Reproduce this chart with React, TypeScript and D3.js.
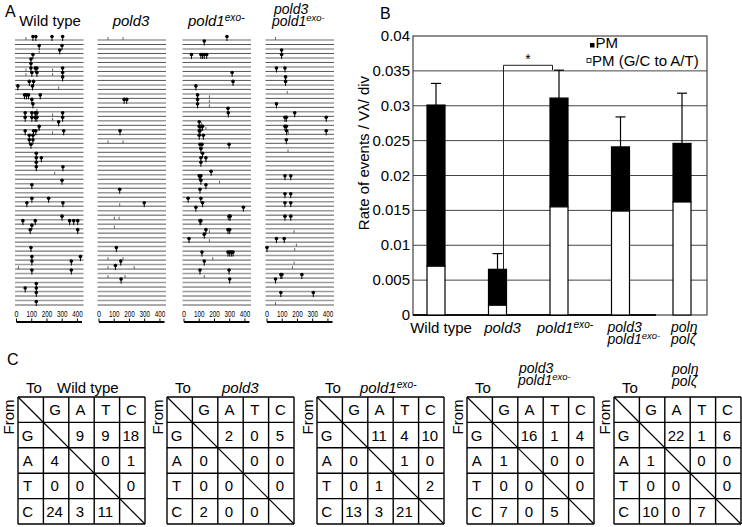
import React from "react";
import * as d3 from "d3";

type Mut = [number, number, string];

// ---------- Panel A data (row, position, kind: p = point mutation pin, t = small tick) ----------
const wtMut: Mut[] = [
  [0,62,"t"],[0,108,"p"],[0,127,"p"],[0,233,"p"],[0,303,"p"],
  [2,149,"p"],[2,299,"p"],[3,149,"t"],[3,284,"p"],[4,108,"p"],[5,95,"p"],[6,95,"p"],
  [7,62,"t"],[7,95,"p"],[7,123,"p"],[7,134,"p"],[7,237,"t"],[7,303,"p"],
  [8,62,"t"],[8,101,"p"],[8,134,"p"],[8,237,"t"],[8,303,"p"],
  [9,303,"p"],[10,84,"p"],[10,112,"p"],[11,9,"p"],[11,105,"p"],[11,277,"t"],
  [13,53,"p"],[13,66,"p"],[13,79,"p"],[13,156,"p"],[14,101,"p"],[15,108,"p"],[16,134,"t"],
  [17,57,"p"],[17,101,"p"],[17,123,"p"],[17,134,"p"],[17,237,"t"],[17,303,"p"],
  [18,57,"p"],[18,101,"p"],[18,123,"p"],[18,134,"p"],[18,237,"t"],[18,303,"p"],
  [19,277,"p"],[20,145,"t"],[20,149,"p"],
  [21,57,"p"],[21,112,"p"],[21,127,"p"],[21,237,"t"],[21,310,"p"],
  [22,84,"p"],[22,108,"p"],[23,84,"p"],[23,108,"p"],[24,95,"p"],
  [26,130,"p"],[27,130,"p"],[27,163,"p"],[28,130,"p"],[29,130,"p"],[29,305,"p"],[30,251,"t"],
  [32,299,"p"],[33,101,"p"],[36,101,"p"],[36,211,"p"],[37,68,"p"],[37,305,"p"],[40,299,"p"],
  [41,42,"p"],[41,123,"p"],[41,349,"p"],[41,376,"p"],[41,402,"p"],[42,101,"p"],[43,90,"p"],[43,402,"p"],
  [47,95,"p"],[49,101,"p"],[49,420,"p"],[50,101,"p"],[50,360,"p"],[51,13,"t"],[52,101,"p"],[52,360,"p"],
  [55,130,"p"],[56,57,"p"],[56,130,"p"],[57,130,"p"],[59,130,"p"],
];
const pold3Mut: Mut[] = [
  [0,59,"t"],[0,158,"t"],[14,165,"p"],[14,182,"p"],[21,138,"p"],[23,59,"t"],[23,158,"t"],
  [34,136,"p"],[37,136,"t"],[37,297,"p"],[40,101,"t"],[40,132,"t"],[42,101,"t"],[47,114,"p"],
  [49,59,"t"],[49,158,"t"],[50,143,"p"],[51,59,"t"],[51,108,"p"],[51,231,"t"],[53,59,"t"],[53,171,"t"],[54,145,"p"],
];
const pold1Mut: Mut[] = [
  [0,282,"p"],[1,133,"p"],[4,49,"p"],[4,111,"p"],[4,122,"p"],[4,133,"p"],[4,149,"p"],
  [8,316,"p"],[10,322,"p"],[11,78,"p"],[13,89,"p"],[13,167,"t"],[14,89,"p"],[14,167,"t"],[15,89,"p"],[15,167,"t"],
  [16,289,"p"],[17,291,"p"],[19,100,"p"],[19,116,"t"],[20,100,"p"],[20,111,"p"],[20,122,"p"],[20,144,"t"],
  [21,100,"p"],[21,105,"p"],[22,100,"p"],[22,127,"p"],[24,105,"p"],[24,118,"p"],[24,296,"p"],
  [25,111,"p"],[26,122,"p"],[27,111,"p"],[27,144,"p"],[28,111,"p"],[30,178,"p"],
  [31,100,"p"],[31,105,"p"],[31,111,"p"],[32,111,"p"],[32,233,"t"],[33,144,"p"],[34,105,"p"],
  [36,27,"p"],[36,111,"p"],[37,122,"p"],[38,78,"p"],[38,390,"p"],[40,289,"t"],[40,296,"p"],[40,303,"p"],
  [41,105,"p"],[41,111,"p"],[43,144,"p"],[43,167,"t"],[43,289,"p"],[43,300,"p"],[44,133,"p"],
  [45,33,"p"],[45,167,"t"],[48,118,"p"],[48,289,"p"],[48,300,"p"],[48,311,"p"],[48,322,"p"],
  [49,189,"t"],[50,133,"p"],[52,105,"p"],[52,296,"p"],[53,133,"t"],[54,300,"p"],
];
const doubleMut: Mut[] = [
  [0,56,"t"],[3,96,"p"],[4,96,"p"],[7,62,"p"],[7,118,"p"],[9,122,"p"],[10,122,"p"],[12,133,"t"],
  [15,62,"p"],[17,182,"p"],[18,118,"p"],[18,127,"p"],[18,389,"p"],[20,118,"p"],[20,127,"p"],
  [21,129,"p"],[21,140,"t"],[21,389,"p"],[23,127,"p"],[25,138,"t"],[31,118,"p"],[31,156,"p"],
  [35,118,"p"],[35,156,"p"],[37,118,"p"],[37,156,"p"],[40,118,"p"],[40,156,"p"],[43,178,"t"],
  [45,62,"p"],[45,113,"p"],[46,193,"t"],[47,0,"p"],[47,182,"t"],[50,178,"t"],[51,167,"t"],
  [53,91,"p"],[53,98,"p"],[53,229,"p"],[54,56,"p"],[57,91,"p"],[57,304,"p"],[59,56,"t"],
];
const panelAAxisTicks = [0, 100, 200, 300, 400];
const ROWS = 60;

// ---------- Panel B data ----------
const categories = ["Wild type", "pold3", "pold1exo-", "pold3 pold1exo-", "polη polζ"];
const pmTotal = [0.0301, 0.00655, 0.0311, 0.0241, 0.0246];
const pmGCtoAT = [0.0070, 0.0014, 0.0155, 0.0149, 0.0162];
const errorTop = [0.0332, 0.0088, 0.0351, 0.0284, 0.0318];
const yTicks = [0, 0.005, 0.01, 0.015, 0.02, 0.025, 0.03, 0.035, 0.04];
const yTickLabels = ["0", "0.005", "0.01", "0.015", "0.02", "0.025", "0.03", "0.035", "0.04"];
const bracketLevel = 0.0358;

// ---------- Panel C data ----------
const bases = ["G", "A", "T", "C"];
const tableWT = [["", "9", "9", "18"], ["4", "", "0", "1"], ["0", "0", "", "0"], ["24", "3", "11", ""]];
const tablePold3 = [["", "2", "0", "5"], ["0", "", "0", "0"], ["0", "0", "", "0"], ["2", "0", "0", ""]];
const tablePold1 = [["", "11", "4", "10"], ["0", "", "1", "0"], ["0", "1", "", "2"], ["13", "3", "21", ""]];
const tableDouble = [["", "16", "1", "4"], ["1", "", "0", "0"], ["0", "0", "", "0"], ["7", "0", "5", ""]];
const tablePol = [["", "22", "1", "6"], ["1", "", "0", "0"], ["0", "0", "", "0"], ["10", "0", "7", ""]];

const FONT = "'Liberation Sans', Arial, Helvetica, sans-serif";

function Italic({ main, sup }: { main: string; sup?: string }) {
  return (
    <>
      <tspan fontStyle="italic">{main}</tspan>
      {sup ? (
        <tspan fontStyle="italic" fontSize="0.68em" dy={-5}>{sup}</tspan>
      ) : null}
    </>
  );
}

function MutColumn({ x0, muts }: { x0: number; muts: Mut[] }) {
  const x = d3.scaleLinear().domain([0, 440]).range([x0, x0 + 67]);
  const ry = d3.scaleLinear().domain([0, ROWS - 1]).range([40, 305]);
  const rows = d3.range(ROWS);
  return (
    <g>
      {rows.map((r) => (
        <line key={r} x1={x0 - 1.5} x2={x0 + 67} y1={ry(r)} y2={ry(r)}
          stroke={r % 2 === 0 ? "#9a9a9a" : "#2a2a2a"} strokeWidth={r % 2 === 0 ? 1.5 : 0.8} />
      ))}
      {muts.map(([r, p, k], i) => {
        const cx = x(p);
        const cy = ry(r);
        if (k === "t") {
          return <line key={i} x1={cx} x2={cx} y1={cy - 3} y2={cy} stroke="#444" strokeWidth={0.8} />;
        }
        return (
          <g key={i}>
            <line x1={cx} x2={cx} y1={cy - 3.5} y2={cy + 1} stroke="#000" strokeWidth={1} />
            <circle cx={cx} cy={cy - 3.5} r={1.8} fill="#000" />
          </g>
        );
      })}
      <line x1={x(0)} x2={x(430)} y1={322} y2={322} stroke="#000" strokeWidth={2} />
      {panelAAxisTicks.map((t) => (
        <g key={t}>
          <line x1={x(t)} x2={x(t)} y1={318.5} y2={322} stroke="#000" strokeWidth={1} />
          <text x={x(t)} y={316.5} fontSize={9} textAnchor="middle" fontFamily={FONT}
            textLength={t === 0 ? 4 : 10.5} lengthAdjust="spacingAndGlyphs">{t}</text>
        </g>
      ))}
    </g>
  );
}

function MutTable({ left, top, data }: { left: number; top: number; data: string[][] }) {
  const w = 127, h = 127;
  const cx = d3.scaleBand<number>().domain([0, 1, 2, 3, 4]).range([left, left + w]);
  const cy = d3.scaleBand<number>().domain([0, 1, 2, 3, 4]).range([top, top + h]);
  const cw = cx.bandwidth(), ch = cy.bandwidth();
  return (
    <g fontFamily={FONT} fontSize={15}>
      {[0, 1, 2, 3, 4, 5].map((i) => (
        <line key={"v" + i} x1={left + i * cw} x2={left + i * cw} y1={top} y2={top + h} stroke="#000" strokeWidth={1.4} />
      ))}
      {[0, 1, 2, 3, 4, 5].map((i) => (
        <line key={"h" + i} x1={left} x2={left + w} y1={top + i * ch} y2={top + i * ch} stroke="#000" strokeWidth={1.4} />
      ))}
      <line x1={left} y1={top} x2={left + w} y2={top + h} stroke="#000" strokeWidth={1.2} />
      {bases.map((b, j) => (
        <text key={"c" + b} x={(cx(j + 1) as number) + cw / 2 - 1} y={(cy(0) as number) + ch / 2 + 5.5} textAnchor="middle">{b}</text>
      ))}
      {bases.map((b, i) => (
        <text key={"r" + b} x={(cx(0) as number) + cw / 2 - 3} y={(cy(i + 1) as number) + ch / 2 + 5.5} textAnchor="middle">{b}</text>
      ))}
      {data.map((row, i) =>
        row.map((v, j) => (
          <text key={i + "-" + j} x={(cx(j + 1) as number) + cw / 2 - 1.5} y={(cy(i + 1) as number) + ch / 2 + 5.5} textAnchor="middle">{v}</text>
        ))
      )}
      <text x={left + 8} y={top - 4} textAnchor="start">To</text>
      <text transform={`translate(${left - 4.5},${top + 20}) rotate(-90)`} textAnchor="middle">From</text>
    </g>
  );
}

export default function App() {
  const y = d3.scaleLinear().domain([0, 0.04]).range([315, 36]);
  const xB = d3.scalePoint<string>().domain(categories).range([436, 682]);
  const barW = 18;
  const fL = 413, fR = 707;

  const tableLefts = [18, 167, 317, 467, 614];
  const tableTop = 397;

  return (
    <svg width={742} height={527} style={{ position: "absolute", left: 0, top: 0, background: "#fff" }}
      fontFamily={FONT}>
      <rect x={0} y={0} width={742} height={527} fill="#fff" />
      {/* ---------- Panel A ---------- */}
      <text x={5} y={17} fontSize={16}>A</text>
      <text x={50} y={26} fontSize={15} textAnchor="middle">Wild type</text>
      <text x={131} y={26} fontSize={15} textAnchor="middle"><Italic main="pold3" /></text>
      <text x={188} y={26} fontSize={15}><Italic main="pold1" sup="exo-" /></text>
      <text x={274} y={14} fontSize={14}><Italic main="pold3" /></text>
      <text x={272} y={26} fontSize={14}><Italic main="pold1" sup="exo-" /></text>
      <MutColumn x0={16.5} muts={wtMut} />
      <MutColumn x0={99} muts={pold3Mut} />
      <MutColumn x0={184} muts={pold1Mut} />
      <MutColumn x0={267} muts={doubleMut} />

      {/* ---------- Panel B ---------- */}
      <text x={380} y={19} fontSize={16}>B</text>
      {yTicks.slice(1, -1).map((t) => (
        <line key={t} x1={fL} x2={fR} y1={y(t)} y2={y(t)} stroke="#444" strokeWidth={1} />
      ))}
      <rect x={fL} y={y(0.04)} width={fR - fL} height={y(0) - y(0.04)} fill="none" stroke="#444" strokeWidth={1.2} />
      <line x1={fL} x2={656} y1={y(0)} y2={y(0)} stroke="#111" strokeWidth={2} />
      {yTicks.map((t, i) => (
        <text key={t} x={410} y={y(t) + 5} fontSize={15} textAnchor="end">{yTickLabels[i]}</text>
      ))}
      <text transform={`translate(369,153) rotate(-90)`} fontSize={15} textAnchor="middle">Rate of events / Vλ/ div</text>
      {categories.map((c, i) => {
        const cx = xB(c) as number;
        return (
          <g key={c}>
            <line x1={cx} x2={cx} y1={y(errorTop[i])} y2={y(pmTotal[i])} stroke="#000" strokeWidth={1.2} />
            <line x1={cx - 5} x2={cx + 5} y1={y(errorTop[i])} y2={y(errorTop[i])} stroke="#000" strokeWidth={1.2} />
            <rect x={cx - barW / 2} y={y(pmTotal[i])} width={barW} height={y(pmGCtoAT[i]) - y(pmTotal[i])}
              fill="#000" stroke="#000" strokeWidth={1.2} />
            <rect x={cx - barW / 2} y={y(pmGCtoAT[i])} width={barW} height={y(0) - y(pmGCtoAT[i])}
              fill="#fff" stroke="#000" strokeWidth={1.2} />
          </g>
        );
      })}
      {(() => {
        const a = (xB(categories[1]) as number) + 6;
        const b = (xB(categories[2]) as number) - 6.5;
        return (
          <g>
            <path d={`M${a},${y(pmTotal[1])} V${y(bracketLevel)} H${b} V${y(errorTop[2])}`} fill="none" stroke="#222" strokeWidth={1} />
            <text x={(a + b) / 2} y={y(bracketLevel) - 1} fontSize={14} fill="#000" textAnchor="middle">*</text>
          </g>
        );
      })()}
      {/* legend */}
      <rect x={590} y={43} width={4.5} height={4.5} fill="#000" />
      <text x={595.5} y={48} fontSize={15}>PM</text>
      <rect x={587} y={58.5} width={4} height={4} fill="#fff" stroke="#000" strokeWidth={0.8} />
      <text x={592} y={65.5} fontSize={15}>PM (G/C to A/T)</text>
      {/* x labels */}
      <text x={(xB(categories[0]) as number) + 5} y={333} fontSize={15} textAnchor="middle">Wild type</text>
      <text x={(xB(categories[1]) as number) + 5} y={333} fontSize={15} textAnchor="middle"><Italic main="pold3" /></text>
      <text x={(xB(categories[2]) as number) + 6} y={333} fontSize={15} textAnchor="middle"><Italic main="pold1" sup="exo-" /></text>
      <text x={(xB(categories[3]) as number) - 13} y={332} fontSize={14}><Italic main="pold3" /></text>
      <text x={(xB(categories[3]) as number) - 13} y={344} fontSize={14}><Italic main="pold1" sup="exo-" /></text>
      <text x={(xB(categories[4]) as number) - 11} y={332} fontSize={14}><Italic main="polη" /></text>
      <text x={(xB(categories[4]) as number) - 11} y={344} fontSize={14}><Italic main="polζ" /></text>

      {/* ---------- Panel C ---------- */}
      <text x={7} y={365} fontSize={16}>C</text>
      <MutTable left={tableLefts[0]} top={tableTop} data={tableWT} />
      <MutTable left={tableLefts[1]} top={tableTop} data={tablePold3} />
      <MutTable left={tableLefts[2]} top={tableTop} data={tablePold1} />
      <MutTable left={tableLefts[3]} top={tableTop} data={tableDouble} />
      <MutTable left={tableLefts[4]} top={tableTop} data={tablePol} />
      <text x={tableLefts[0] + 39} y={393} fontSize={15}>Wild type</text>
      <text x={tableLefts[1] + 55} y={393} fontSize={15}><Italic main="pold3" /></text>
      <text x={tableLefts[2] + 43} y={393} fontSize={15}><Italic main="pold1" sup="exo-" /></text>
      <text x={tableLefts[3] + 52} y={373} fontSize={14}><Italic main="pold3" /></text>
      <text x={tableLefts[3] + 51} y={385} fontSize={14}><Italic main="pold1" sup="exo-" /></text>
      <text x={tableLefts[4] + 58} y={374} fontSize={14}><Italic main="polη" /></text>
      <text x={tableLefts[4] + 58} y={386} fontSize={14}><Italic main="polζ" /></text>
    </svg>
  );
}
